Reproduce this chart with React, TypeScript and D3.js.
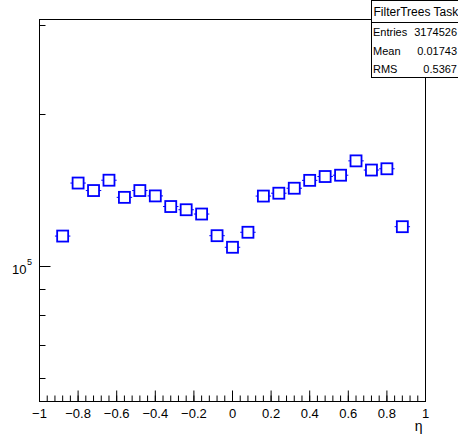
import React from "react";
import * as d3 from "d3";

// Pseudorapidity bin centres (bin width 0.08) and entries per bin
const etaCenters = [
  -0.88, -0.8, -0.72, -0.64, -0.56, -0.48, -0.4, -0.32, -0.24, -0.16, -0.08, 0.0,
  0.08, 0.16, 0.24, 0.32, 0.4, 0.48, 0.56, 0.64, 0.72, 0.8, 0.88,
];
const counts = [
  114700, 146000, 141100, 147900, 136800, 141100, 137700, 131200, 129300, 126800, 114900, 109000,
  116700, 137600, 139400, 142600, 147800, 150400, 151300, 161500, 154900, 155800, 119700,
];
const binWidth = 0.08;

const xMajorTicks = [-1, -0.8, -0.6, -0.4, -0.2, 0, 0.2, 0.4, 0.6, 0.8, 1];
const xTickLabels = ["\u22121", "\u22120.8", "\u22120.6", "\u22120.4", "\u22120.2", "0", "0.2", "0.4", "0.6", "0.8", "1"];
const yMinorTicks = [60000, 70000, 80000, 90000, 200000, 300000];
const yMajorTicks = [100000];

const statsTitle = "FilterTrees Task";
const statsLabels = ["Entries", "Mean", "RMS"];
const statsValues = ["3174526", "0.01743", "0.5367"];

const W = 458;
const H = 438;
const left = 39.5;
const right = 425.5;
const top = 19.5;
const bottom = 401.5;

const font = "'Liberation Sans', Arial, Helvetica, sans-serif";
const blue = "#0000ff";

export default function App() {
  const x = d3.scaleLinear().domain([-1, 1]).range([left, right]);
  const y = d3.scaleLog().domain([54030, 307300]).range([bottom, top]);

  const xMinor = d3.range(0, 51).map((i) => -1 + i * 0.04);
  const half = 5.5;

  return (
    <svg
      width={W}
      height={H}
      style={{ position: "absolute", left: 0, top: 0, background: "#fff" }}
      fontFamily={font}
    >
      <rect x={0} y={0} width={W} height={H} fill="#fff" />

      {/* frame */}
      <rect x={left} y={top} width={right - left} height={bottom - top} fill="none" stroke="#000" strokeWidth={1} />

      {/* x axis ticks */}
      {xMinor.map((v, i) => (
        <line key={"xm" + i} x1={x(v)} x2={x(v)} y1={bottom} y2={bottom - 6} stroke="#000" strokeWidth={1} />
      ))}
      {xMajorTicks.map((v, i) => (
        <line key={"xM" + i} x1={x(v)} x2={x(v)} y1={bottom} y2={bottom - 11} stroke="#000" strokeWidth={1} />
      ))}
      {xMajorTicks.map((v, i) => (
        <text key={"xl" + i} x={x(v)} y={417.5} fontSize={13} textAnchor="middle" fill="#000">
          {xTickLabels[i]}
        </text>
      ))}
      <text x={right - 3} y={431} fontSize={14} textAnchor="end" fill="#000">
        η
      </text>

      {/* y axis ticks */}
      {yMinorTicks.map((v, i) => (
        <line key={"ym" + i} x1={left} x2={left + 6} y1={Math.round(y(v)) + 0.5} y2={Math.round(y(v)) + 0.5} stroke="#000" strokeWidth={1} />
      ))}
      {yMajorTicks.map((v, i) => (
        <g key={"yM" + i}>
          <line x1={left} x2={left + 11} y1={Math.round(y(v)) + 0.5} y2={Math.round(y(v)) + 0.5} stroke="#000" strokeWidth={1} />
          <text x={26.5} y={y(v) + 8} fontSize={13} textAnchor="end" fill="#000">
            10
          </text>
          <text x={27} y={y(v) - 1.5} fontSize={9} textAnchor="start" fill="#000">
            5
          </text>
        </g>
      ))}

      {/* data points: horizontal bin-width bars with open square markers */}
      {etaCenters.map((c, i) => {
        const cx = x(c);
        const cy = y(counts[i]);
        return (
          <g key={"p" + i}>
            <line x1={x(c - binWidth / 2)} x2={cx - half} y1={cy} y2={cy} stroke={blue} strokeWidth={1} />
            <line x1={cx + half} x2={x(c + binWidth / 2)} y1={cy} y2={cy} stroke={blue} strokeWidth={1} />
            <rect x={cx - half} y={cy - half} width={half * 2} height={half * 2} fill="none" stroke={blue} strokeWidth={1.8} />
          </g>
        );
      })}

      {/* statistics box */}
      <rect x={371.5} y={0.5} width={100} height={77} fill="#fff" stroke="#000" strokeWidth={1} />
      <line x1={371.5} x2={W} y1={22.5} y2={22.5} stroke="#000" strokeWidth={1} />
      <text x={373.5} y={16} fontSize={12} fill="#000">
        {statsTitle}
      </text>
      {statsLabels.map((lab, i) => (
        <g key={"s" + i}>
          <text x={373} y={36 + i * 18.6} fontSize={11} fill="#000">
            {lab}
          </text>
          <text x={457} y={36 + i * 18.6} fontSize={11} textAnchor="end" fill="#000">
            {statsValues[i]}
          </text>
        </g>
      ))}
    </svg>
  );
}
